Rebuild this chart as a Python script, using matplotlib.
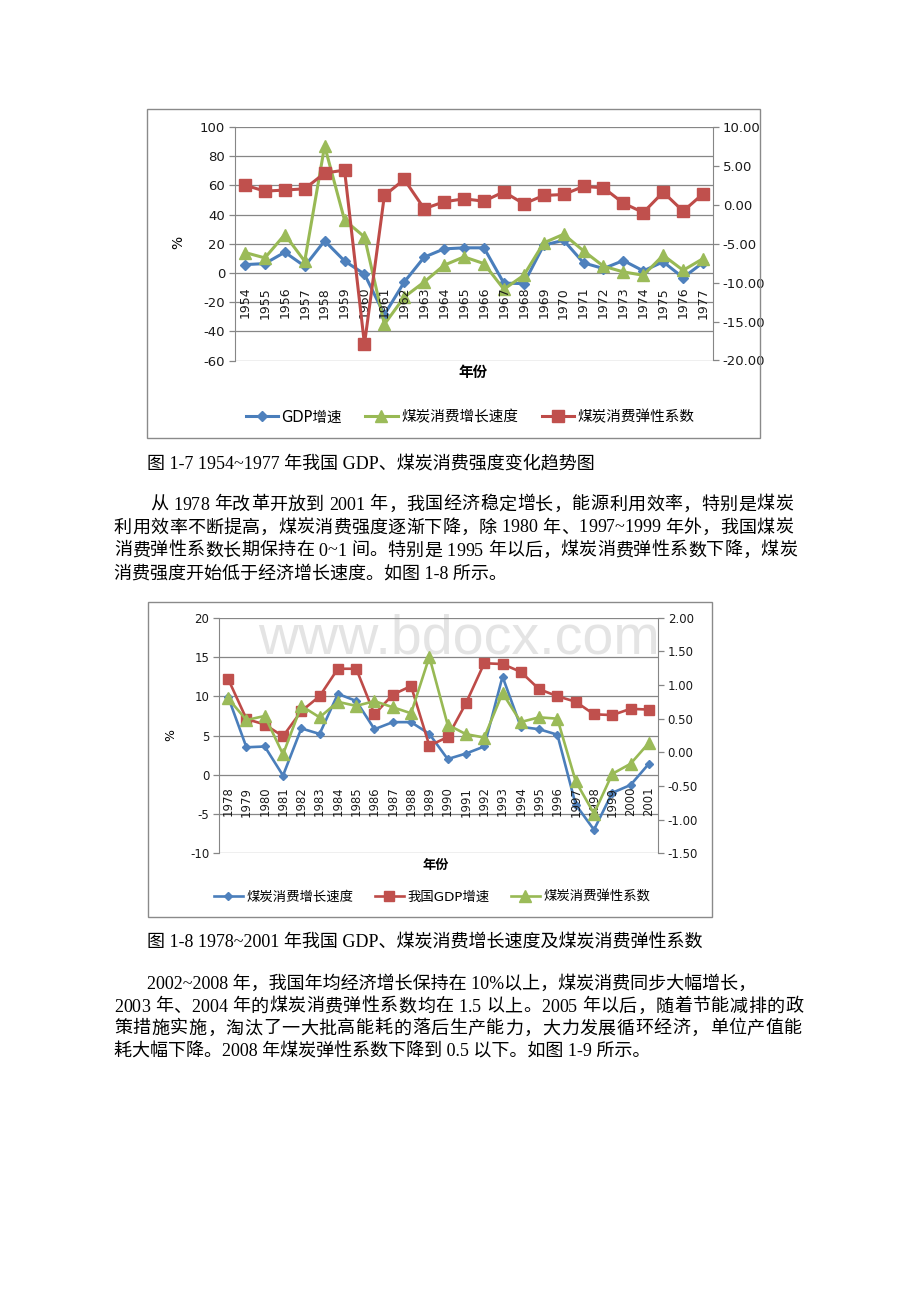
import matplotlib
matplotlib.use("Agg")
import matplotlib.pyplot as plt
from matplotlib.patches import Rectangle

plt.rcParams["axes.unicode_minus"] = False

# ---- data ----
years1 = list(range(1954, 1978))
gdp1 = [5.7, 6.4, 14.2, 4.6, 22.0, 8.2, -0.8, -28.6, -6.2, 10.8, 16.5, 17.2,
        17.2, -7.0, -7.3, 19.0, 22.4, 6.9, 3.0, 8.5, 1.4, 7.6, -3.2, 7.1]
coal1 = [14.0, 10.3, 26.3, 8.0, 87.0, 36.2, 24.7, -35.2, -16.5, -6.2, 5.3, 11.0,
         6.4, -11.2, -1.6, 20.6, 26.5, 15.1, 4.6, 0.7, -1.6, 12.1, 1.8, 9.8]
elas1 = [2.53, 1.76, 1.90, 2.06, 4.08, 4.46, -17.9, 1.20, 3.26, -0.50, 0.39, 0.77,
         0.47, 1.67, 0.13, 1.20, 1.33, 2.36, 2.19, 0.21, -0.99, 1.63, -0.82, 1.42]

years2 = list(range(1978, 2002))
coal2 = [9.9, 3.5, 3.6, -0.1, 5.9, 5.2, 10.3, 9.4, 5.8, 6.7, 6.7, 5.2,
         2.0, 2.7, 3.6, 12.5, 6.1, 5.8, 5.1, -3.8, -7.0, -2.3, -1.3, 1.4]
gdp2 = [12.2, 7.1, 6.4, 4.9, 8.1, 10.0, 13.5, 13.5, 7.7, 10.2, 11.3, 3.7,
        4.8, 9.1, 14.2, 14.1, 13.1, 10.9, 10.0, 9.3, 7.7, 7.6, 8.4, 8.3]
elas2 = [0.80, 0.48, 0.54, -0.03, 0.69, 0.52, 0.75, 0.69, 0.76, 0.67, 0.58, 1.42,
         0.41, 0.27, 0.22, 0.88, 0.45, 0.52, 0.50, -0.43, -0.91, -0.32, -0.17, 0.14]

caption1 = "图 1-7 1954~1977 年我国 GDP、煤炭消费强度变化趋势图"
para1 = ["从 1978 年改革开放到 2001 年，我国经济稳定增长，能源利用效率，特别是煤炭",
         "利用效率不断提高，煤炭消费强度逐渐下降，除 1980 年、1997~1999 年外，我国煤炭",
         "消费弹性系数长期保持在 0~1 间。特别是 1995 年以后，煤炭消费弹性系数下降，煤炭",
         "消费强度开始低于经济增长速度。如图 1-8 所示。"]
caption2 = "图 1-8 1978~2001 年我国 GDP、煤炭消费增长速度及煤炭消费弹性系数"
para2 = ["2002~2008 年，我国年均经济增长保持在 10%以上，煤炭消费同步大幅增长，",
         "2003 年、2004 年的煤炭消费弹性系数均在 1.5 以上。2005 年以后，随着节能减排的政",
         "策措施实施，淘汰了一大批高能耗的落后生产能力，大力发展循环经济，单位产值能",
         "耗大幅下降。2008 年煤炭弹性系数下降到 0.5 以下。如图 1-9 所示。"]

BLUE, BLUE_M = "#4A7EBB", "#4F81BD"
RED, RED_M = "#BE4B48", "#C0504D"
GREEN, GREEN_M = "#98B954", "#9BBB59"
GRID = "#868686"
SANS = ["DejaVu Sans", "Noto Sans CJK SC"]
SERIF = ["Liberation Serif", "Noto Sans CJK SC"]

W, H = 920, 1302
fig = plt.figure(figsize=(W / 100, H / 100), dpi=100)
renderer = fig.canvas.get_renderer()


def fx(x):
    return x / W


def fy(y):
    return 1 - y / H


def make_axes(l, t, r, b):
    ax = fig.add_axes([fx(l), fy(b), (r - l) / W, (b - t) / H])
    ax.set_facecolor("none")
    return ax


def style(ax, ax2, lsize):
    for s in ["top", "bottom", "right"]:
        ax.spines[s].set_visible(False)
    for s in ["top", "bottom", "left"]:
        ax2.spines[s].set_visible(False)
    ax.spines["left"].set_color(GRID)
    ax2.spines["right"].set_color(GRID)
    ax.grid(axis="y", color=GRID, lw=0.9)
    ax.set_axisbelow(True)
    ax.set_xticks([])
    for a in (ax, ax2):
        a.tick_params(axis="y", direction="out", length=4, width=0.9,
                      color=GRID, labelsize=lsize, pad=3, labelcolor="#1a1a1a")


def box(l, t, r, b):
    fig.add_artist(Rectangle((fx(l), fy(b)), (r - l) / W, (b - t) / H,
                             transform=fig.transFigure, fill=False,
                             edgecolor="#8a8a8a", lw=1.0))


TS = 13


def text_width(s):
    t = fig.text(0, 0, s, fontsize=TS, family=SERIF)
    w = t.get_window_extent(renderer).width
    t.remove()
    return w


def put_line(s, x, y, right=None):
    # plain line, or stretch the gaps next to CJK characters to reach the margin
    if right is None:
        fig.text(fx(x), fy(y), s, ha="left", va="center", fontsize=TS, family=SERIF)
        return
    stretch = [k > 0 and not (s[k - 1].isascii() and s[k].isascii())
               for k in range(len(s))]
    step = ((right - x) - text_width(s)) / sum(stretch)
    n = 0
    for k, ch in enumerate(s):
        n += stretch[k]
        if ch == " ":
            continue
        pos = text_width(s[:k + 1]) - text_width(ch) if k else 0
        fig.text(fx(x + pos + n * step), fy(y), ch, ha="left", va="center",
                 fontsize=TS, family=SERIF)


# ================= chart 1 =================
box(147, 109, 760, 438)
ax = make_axes(235, 127, 713, 360.5)
ax2 = ax.twinx()
x1 = list(range(len(years1)))
l1, = ax.plot(x1, gdp1, color=BLUE, lw=2.2, marker="D", ms=5.2,
              mfc=BLUE_M, mec=BLUE_M, label="GDP增速")
l2, = ax.plot(x1, coal1, color=GREEN, lw=2.2, marker="^", ms=9,
              mfc=GREEN_M, mec=GREEN_M, label="煤炭消费增长速度")
l3, = ax2.plot(x1, elas1, color=RED, lw=2.2, marker="s", ms=8.2,
               mfc=RED_M, mec=RED_M, label="煤炭消费弹性系数")
ax.set_xlim(-0.5, len(years1) - 0.5)
ax.set_ylim(-60, 100)
ax.set_yticks(range(-60, 101, 20))
ax2.set_ylim(-20, 10)
ax2.set_yticks(range(-20, 11, 5))
ax2.set_yticklabels([f"{v:.2f}" for v in range(-20, 11, 5)])
style(ax, ax2, 9.5)
for i, yr in zip(x1, years1):
    ax.annotate(str(yr), xy=(i, 0), xytext=(0, -10), textcoords="offset points",
                rotation=90, ha="center", va="top", fontsize=9, color="#1a1a1a")
fig.text(fx(178), fy(242), "%", rotation=90, ha="center", va="center",
         fontsize=10, family=SANS)
fig.text(fx(473), fy(372), "年份", ha="center", va="center", fontsize=10.5,
         fontweight="bold", family=SANS)
fig.legend(handles=[l1, l2, l3], loc="center", bbox_to_anchor=(fx(470), fy(417)),
           ncol=3, frameon=False, prop={"family": SANS, "size": 10.5},
           handlelength=2.2, handletextpad=0.25, columnspacing=1.6)

# ================= chart 2 =================
box(148, 602, 712, 917)
fig.text(fx(459), fy(653), "www.bdocx.com", ha="center", va="baseline",
         fontsize=40, color="#e4e4e4", family="Liberation Sans", zorder=-1)
bx = make_axes(219, 617.7, 658, 853.3)
bx2 = bx.twinx()
x2 = list(range(len(years2)))
m1, = bx.plot(x2, coal2, color=BLUE, lw=1.9, marker="D", ms=4.3,
              mfc=BLUE_M, mec=BLUE_M, label="煤炭消费增长速度")
m2, = bx.plot(x2, gdp2, color=RED, lw=1.9, marker="s", ms=7.2,
              mfc=RED_M, mec=RED_M, label="我国GDP增速")
m3, = bx2.plot(x2, elas2, color=GREEN, lw=1.9, marker="^", ms=8.2,
               mfc=GREEN_M, mec=GREEN_M, label="煤炭消费弹性系数")
bx.set_xlim(-0.5, len(years2) - 0.5)
bx.set_ylim(-10, 20)
bx.set_yticks(range(-10, 21, 5))
r_ticks = [-1.5, -1.0, -0.5, 0.0, 0.5, 1.0, 1.5, 2.0]
bx2.set_ylim(-1.5, 2.0)
bx2.set_yticks(r_ticks)
bx2.set_yticklabels([f"{v:.2f}" for v in r_ticks])
style(bx, bx2, 8.5)
for i, yr in zip(x2, years2):
    bx.annotate(str(yr), xy=(i, 0), xytext=(0, -8.5), textcoords="offset points",
                rotation=90, ha="center", va="top", fontsize=8.4, color="#1a1a1a")
fig.text(fx(171), fy(735), "%", rotation=90, ha="center", va="center",
         fontsize=9, family=SANS)
fig.text(fx(436), fy(865), "年份", ha="center", va="center", fontsize=9.5,
         fontweight="bold", family=SANS)
fig.legend(handles=[m1, m2, m3], loc="center", bbox_to_anchor=(fx(432), fy(897)),
           ncol=3, frameon=False, prop={"family": SANS, "size": 9.6},
           handlelength=2.2, handletextpad=0.25, columnspacing=1.6)

# ================= page text =================
put_line(caption1, 147, 465)
put_line(para1[0], 150, 505, right=793)
put_line(para1[1], 114, 528, right=793)
put_line(para1[2], 114, 551, right=797)
put_line(para1[3], 114, 574)
put_line(caption2, 147, 943)
put_line(para2[0], 147, 984)
put_line(para2[1], 114, 1007, right=803)
put_line(para2[2], 114, 1029, right=802)
put_line(para2[3], 114, 1052)

fig.savefig("out.png", dpi=100, facecolor="white")
